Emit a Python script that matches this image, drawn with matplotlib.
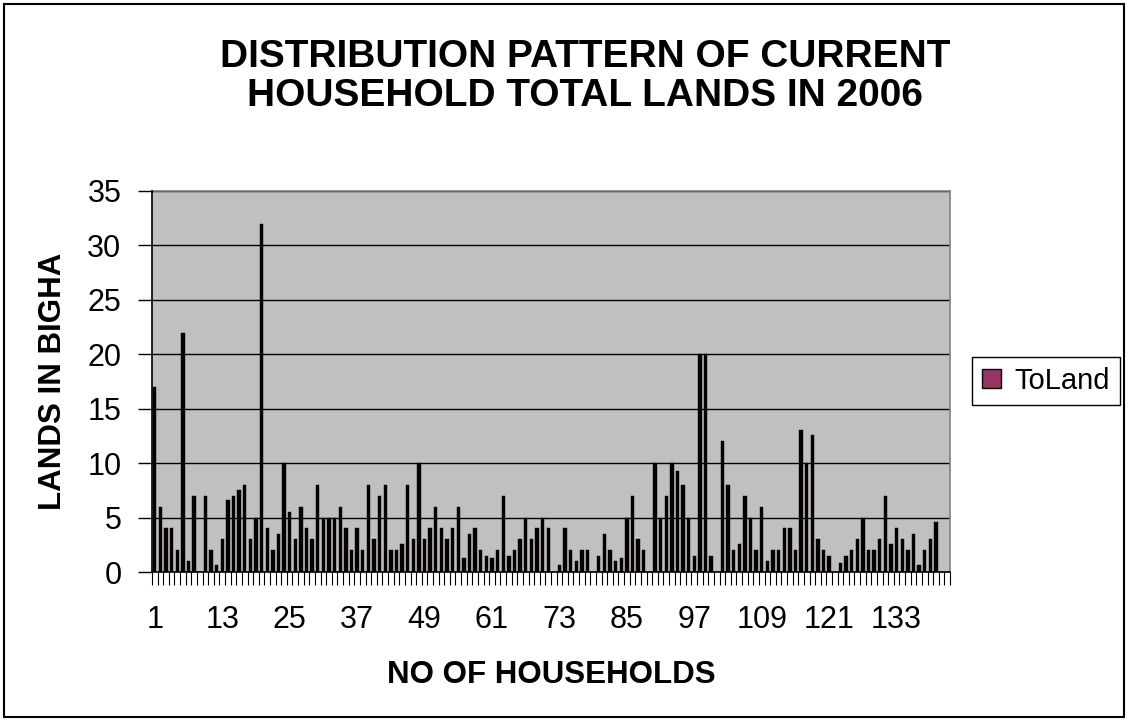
import matplotlib
matplotlib.use("Agg")
import matplotlib.pyplot as plt
from matplotlib.patches import Patch, Rectangle
import numpy as np

households = list(range(1, 143))
toland = [17, 6, 4, 4, 2, 22, 1, 7, 0, 7,
          2, 0.6, 3, 6.6, 7, 7.5, 8, 3, 5, 32,
          4, 2, 3.5, 10, 5.5, 3, 6, 4, 3, 8,
          5, 5, 5, 6, 4, 2, 4, 2, 8, 3,
          7, 8, 2, 2, 2.6, 8, 3, 10, 3, 4,
          6, 4, 3, 4, 6, 1.3, 3.5, 4, 2, 1.5,
          1.3, 2, 7, 1.5, 2, 3, 5, 3, 4, 5,
          4, 0, 0.6, 4, 2, 1, 2, 2, 0, 1.5,
          3.5, 2, 1, 1.3, 5, 7, 3, 2, 0, 10,
          5, 7, 10, 9.3, 8, 5, 1.5, 20, 20, 1.5,
          0, 12, 8, 2, 2.6, 7, 5, 2, 6, 1,
          2, 2, 4, 4, 2, 13, 10, 12.6, 3, 2,
          1.5, 0, 0.8, 1.5, 2, 3, 5, 2, 2, 3,
          7, 2.6, 4, 3, 2, 3.5, 0.6, 2, 3, 4.6,
          0, 0]
tick_labels = [1, 13, 25, 37, 49, 61, 73, 85, 97, 109, 121, 133]
y_ticks = [0, 5, 10, 15, 20, 25, 30, 35]

plt.rcParams['font.family'] = ['Liberation Sans', 'DejaVu Sans']

W, H = 1128, 721
fig = plt.figure(figsize=(W / 100, H / 100), dpi=100)
fig.patch.set_facecolor('white')

# outer chart border
fig.add_artist(Rectangle((4 / W, 4 / H), 1 - 8 / W, 1 - 8 / H, transform=fig.transFigure,
                         fill=False, edgecolor='black', linewidth=1.5))

L, R, T, B = 152, 950, 191, 572
ax = fig.add_axes([L / W, 1 - B / H, (R - L) / W, (B - T) / H])
ax.set_facecolor('#C0C0C0')

ax.bar(households, toland, width=0.6, color='#050003', edgecolor='#050003', linewidth=0.3, zorder=3)

ax.set_xlim(0.5, len(households) + 0.5)
ax.set_ylim(0, 35)
ax.set_yticks(y_ticks)
ax.set_yticklabels([str(v) for v in y_ticks], fontsize=22)
ax.set_xticks(tick_labels)
ax.set_xticklabels([str(v) for v in tick_labels], fontsize=22)
ax.set_xticks(np.arange(0.5, len(households) + 1, 1.0), minor=True)
ax.tick_params(axis='x', which='major', length=0, pad=24)
ax.tick_params(axis='x', which='minor', length=9, width=0.8, direction='out', color='black')
ax.tick_params(axis='y', which='major', length=10, width=1, direction='out', color='black', pad=12)

ax.grid(axis='y', color='black', linewidth=1, zorder=1)
ax.set_axisbelow(True)
for s in ['top', 'right']:
    ax.spines[s].set_color('#808080')
    ax.spines[s].set_linewidth(1.2)
for s in ['left', 'bottom']:
    ax.spines[s].set_color('black')
    ax.spines[s].set_linewidth(1.2)
    ax.spines[s].set_zorder(5)

# title
fig.text(585 / W, 1 - 67 / H, 'DISTRIBUTION PATTERN OF CURRENT', ha='center', va='baseline',
         fontsize=28, fontweight='bold')
fig.text(585 / W, 1 - 106 / H, 'HOUSEHOLD TOTAL LANDS IN 2006', ha='center', va='baseline',
         fontsize=28, fontweight='bold')

# axis labels
fig.text(551 / W, 1 - 683 / H, 'NO OF HOUSEHOLDS', ha='center', va='baseline',
         fontsize=22.5, fontweight='bold')
fig.text(53 / W, 1 - 381 / H, 'LANDS IN BIGHA', ha='center', va='center', rotation=90,
         fontsize=22.5, fontweight='bold')

# legend
handle = Patch(facecolor='#993366', edgecolor='black', linewidth=1)
leg = fig.legend([handle], ['ToLand'], loc='center left',
                 bbox_to_anchor=(972 / W, 1 - 381 / H), bbox_transform=fig.transFigure,
                 fontsize=21, frameon=True, fancybox=False, framealpha=1,
                 edgecolor='black', handlelength=0.65, handleheight=0.65,
                 handletextpad=0.45, borderpad=0.35, borderaxespad=0)
leg.get_frame().set_linewidth(1)

fig.savefig('out.png', dpi=100)
